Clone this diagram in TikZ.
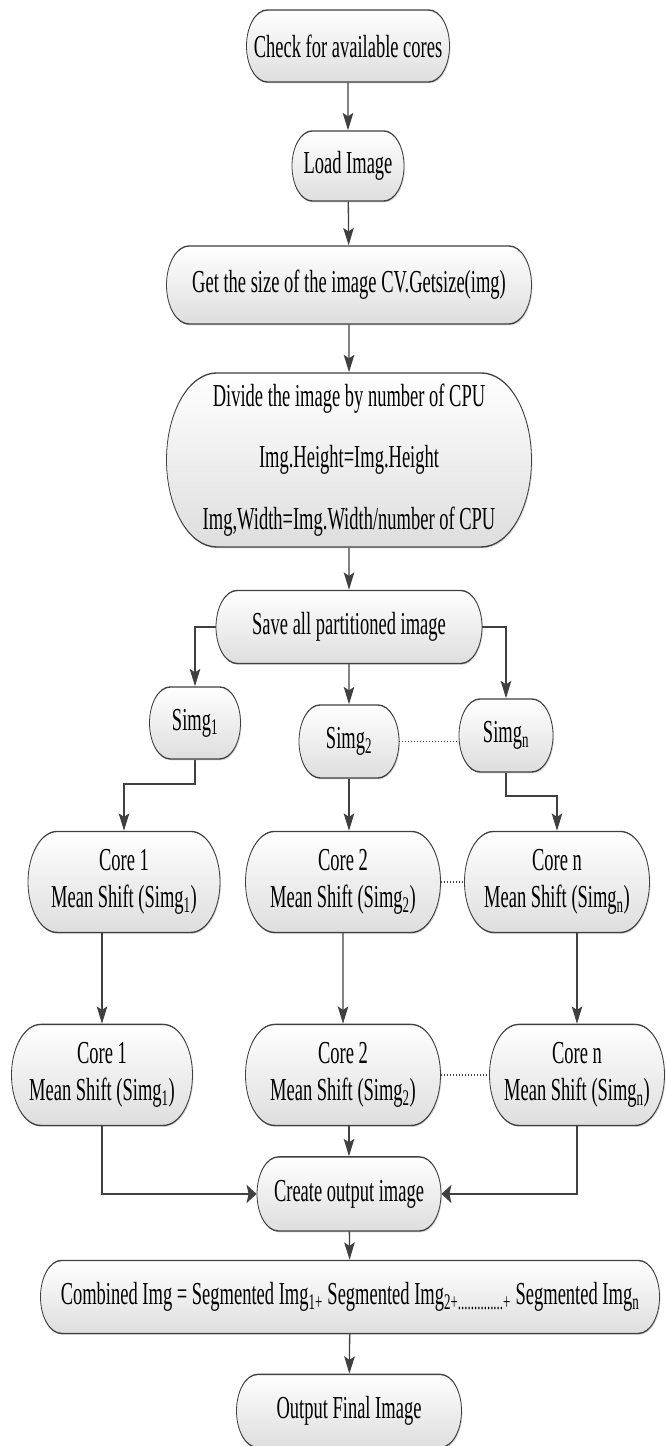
\documentclass[tikz,border=0pt]{standalone}
\usepackage{fontspec}
\setmainfont{Liberation Serif}
\usepackage{tikz}
\usetikzlibrary{shapes.misc,arrows.meta,shadows,calc}

\begin{document}
\begin{tikzpicture}[->,>={Stealth[length=10pt,width=10.5pt,inset=2pt]}, x=1pt, y=-0.578pt, line width=1.3pt, black!75]
	\tikzstyle{block}=[rounded rectangle, draw=black!75, line width=0.8pt, top color=white, bottom color=black!13,
		drop shadow={shadow xshift=1pt, shadow yshift=-0.8pt, opacity=0.3}, inner xsep=0pt, inner ysep=0pt,
		align=center, text=black, font=\fontsize{18.5}{21.4}\selectfont]
	\tikzstyle{dotline}=[-, dotted, line width=1pt]

	\useasboundingbox (0pt,0pt) rectangle (666pt,-1446pt);

	\begin{scope}[transform canvas={yscale=1.73}]
		% main column
		\node[block, minimum width=203pt, minimum height=41.6pt] (check) at (348,46) {Check for available cores};
		\node[block, minimum width=112pt, minimum height=40.5pt] (load) at (348,166) {Load Image};
		\node[block, minimum width=365pt, minimum height=45.1pt] (getsize) at (349,285) {Get the size of the image CV.Getsize(img)};
		\node[block, minimum width=365pt, minimum height=100.6pt] (divide) at (349,460)
			{Divide the image by number of CPU\\[14pt]Img.Height=Img.Height\\[14pt]Img,Width=Img.Width/number of CPU};
		\node[block, minimum width=266pt, minimum height=42.2pt] (save) at (349,627) {Save all partitioned image};

		% partitions
		\node[block, minimum width=91pt, minimum height=41.6pt] (simg1) at (195,723) {Simg\textsubscript{1}};
		\node[block, minimum width=100pt, minimum height=42.2pt] (simg2) at (349,741.5) {Simg\textsubscript{2}};
		\node[block, minimum width=94pt, minimum height=42.2pt] (simgn) at (506,735.5) {Simg\textsubscript{n}};

		% first core row
		\node[block, minimum width=192pt, minimum height=58.4pt] (core1a) at (124,882) {Core 1\\Mean Shift (Simg\textsubscript{1})};
		\node[block, minimum width=195pt, minimum height=58.4pt] (core2a) at (343,882) {Core 2\\Mean Shift (Simg\textsubscript{2})};
		\node[block, minimum width=185pt, minimum height=58.4pt] (corena) at (557,882) {Core n\\Mean Shift (Simg\textsubscript{n})};

		% second core row
		\node[block, minimum width=181pt, minimum height=58.4pt] (core1b) at (102,1075) {Core 1\\Mean Shift (Simg\textsubscript{1})};
		\node[block, minimum width=195pt, minimum height=58.4pt] (core2b) at (343,1075) {Core 2\\Mean Shift (Simg\textsubscript{2})};
		\node[block, minimum width=175pt, minimum height=58.4pt] (corenb) at (577,1075) {Core n\\Mean Shift (Simg\textsubscript{n})};

		% merge
		\node[block, minimum width=184pt, minimum height=42.8pt] (create) at (349,1194) {Create output image};
		\node[block, minimum width=619pt, minimum height=42.2pt] (combined) at (350,1297)
			{Combined Img = Segmented Img\textsubscript{1+} Segmented Img\textsubscript{2+..............+} Segmented Img\textsubscript{n}};
		\node[block, minimum width=225pt, minimum height=42.2pt] (output) at (349,1411) {Output Final Image};

		\draw (check) -- (load);
		\draw (load) -- (getsize);
		\draw (getsize) -- (divide);
		\draw (divide) -- (save);

		\draw (save.west) -| (simg1.north);
		\draw (save) -- (simg2);
		\draw (save.east) -| (simgn.north);
		\draw[dotline] (simg2.east) -- (simg2.east -| simgn.west);

		\draw (simg1.south) -- ++(0,24) -| (core1a.north);
		\draw (simg2.south) -- (simg2.south |- core2a.north);
		\draw (simgn.south) -- ++(0,23) -| (corena.north);
		\draw[dotline] (core2a.east) -- (core2a.east -| corena.west);

		\draw (core1b.north |- core1a.south) -- (core1b.north);
		\draw (core2a) -- (core2b);
		\draw (corenb.north |- corena.south) -- (corenb.north);
		\draw[dotline] (core2b.east) -- (core2b.east -| corenb.west);

		\draw (core1b.south) |- (create.west);
		\draw (create.north |- core2b.south) -- (create.north);
		\draw (corenb.south) |- (create.east);

		\draw (create) -- (combined);
		\draw (combined) -- (output);
	\end{scope}
\end{tikzpicture}
\end{document}
